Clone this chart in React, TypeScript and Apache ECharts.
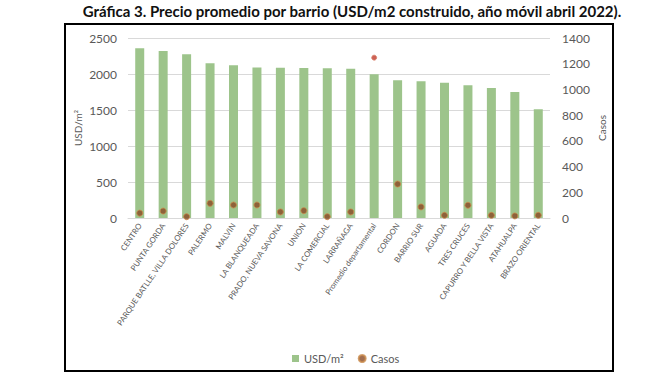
import React, { useEffect, useRef } from "react";
import * as echarts from "echarts";

const categories = [
  "CENTRO",
  "PUNTA GORDA",
  "PARQUE BATLLE, VILLA DOLORES",
  "PALERMO",
  "MALVIN",
  "LA BLANQUEADA",
  "PRADO, NUEVA SAVONA",
  "UNION",
  "LA COMERCIAL",
  "LARRAÑAGA",
  "Promedio departamental",
  "CORDON",
  "BARRIO SUR",
  "AGUADA",
  "TRES CRUCES",
  "CAPURRO Y BELLA VISTA",
  "ATAHUALPA",
  "BRAZO ORIENTAL",
];

const usdM2 = [2357, 2319, 2273, 2148, 2120, 2090, 2088, 2083, 2079, 2074, 1996, 1912, 1898, 1880, 1843, 1806, 1750, 1510];
const casos = [38, 54, 10, 114, 101, 101, 47, 57, 10, 47, 1247, 264, 86, 21, 99, 21, 16, 21];

const leftTicks = { min: 0, max: 2500, interval: 500 };
const rightTicks = { min: 0, max: 1400, interval: 200 };

const highlightCategory = "Promedio departamental";
const titleText = "Gráfica 3. Precio promedio por barrio (USD/m2 construido, año móvil abril 2022).";

export default function App() {
  const ref = useRef<HTMLDivElement>(null);

  useEffect(() => {
    if (!ref.current) return;
    const chart = echarts.init(ref.current, null, { renderer: "svg" });
    const labelColor = "#595959";
    const font = "Lato, 'Open Sans', sans-serif";

    chart.setOption({
      animation: false,
      backgroundColor: "#ffffff",
      graphic: [
        {
          type: "text",
          x: 352,
          y: 11,
          style: {
            text: titleText,
            font: `bold 15px ${font}`,
            fill: "#111",
            textAlign: "center",
            textVerticalAlign: "middle",
          },
          silent: true,
        },
        {
          type: "rect",
          shape: { x: 65, y: 24, width: 548, height: 347 },
          style: { fill: "none", stroke: "#000", lineWidth: 2 },
          silent: true,
          z: 100,
        },
      ],
      legend: {
        left: 287,
        top: 348,
        itemGap: 14,
        itemWidth: 7,
        itemHeight: 7,
        textStyle: { fontFamily: font, fontSize: 11, color: labelColor },
        data: [
          { name: "USD/m²", icon: "rect" },
          { name: "Casos", icon: "circle" },
        ],
      },
      grid: { left: 128, right: 112, top: 38, bottom: 160, containLabel: false },
      xAxis: {
        type: "category",
        data: categories,
        axisLine: { show: true, lineStyle: { color: "#d9d9d9" } },
        axisTick: { show: false },
        axisLabel: {
          rotate: 56,
          interval: 0,
          fontSize: 7.8,
          fontFamily: font,
          color: labelColor,
          margin: 6,
        },
      },
      yAxis: [
        {
          type: "value",
          ...leftTicks,
          name: "USD/m²",
          nameLocation: "middle",
          nameRotate: 90,
          nameGap: 45,
          nameMoveOverlap: false,
          nameTextStyle: { fontFamily: font, fontSize: 10, color: labelColor },
          axisLabel: {
            fontFamily: font,
            fontSize: 12,
            color: labelColor,
            margin: 11,
            formatter: (v: number) => String(v),
          },
          splitLine: { lineStyle: { color: "#d9d9d9" } },
          axisLine: { show: false },
          axisTick: { show: false },
        },
        {
          type: "value",
          ...rightTicks,
          position: "right",
          name: "Casos",
          nameLocation: "middle",
          nameRotate: 90,
          nameGap: 47,
          nameMoveOverlap: false,
          nameTextStyle: { fontFamily: font, fontSize: 10, color: labelColor },
          axisLabel: {
            fontFamily: font,
            fontSize: 12,
            color: labelColor,
            margin: 12,
            formatter: (v: number) => String(v),
          },
          splitLine: { show: false },
          axisLine: { show: false },
          axisTick: { show: false },
        },
      ],
      series: [
        {
          name: "USD/m²",
          type: "bar",
          data: usdM2,
          barWidth: 9,
          itemStyle: { color: "#9dc48b" },
        },
        {
          name: "Casos",
          type: "scatter",
          yAxisIndex: 1,
          symbol: "circle",
          symbolSize: 6,
          itemStyle: { color: "#8a4a25", borderColor: "#c98a4a", borderWidth: 1 },
          data: casos.map((v, i) =>
            categories[i] === highlightCategory
              ? { value: v, symbolSize: 5, itemStyle: { color: "#c0392b", borderColor: "#d9826b", borderWidth: 1 } }
              : v
          ),
          z: 5,
        },
      ],
    });

    return () => chart.dispose();
  }, []);

  return (
    <div
      ref={ref}
      style={{ position: "fixed", left: 0, top: 0, width: 662, height: 378 }}
    />
  );
}
